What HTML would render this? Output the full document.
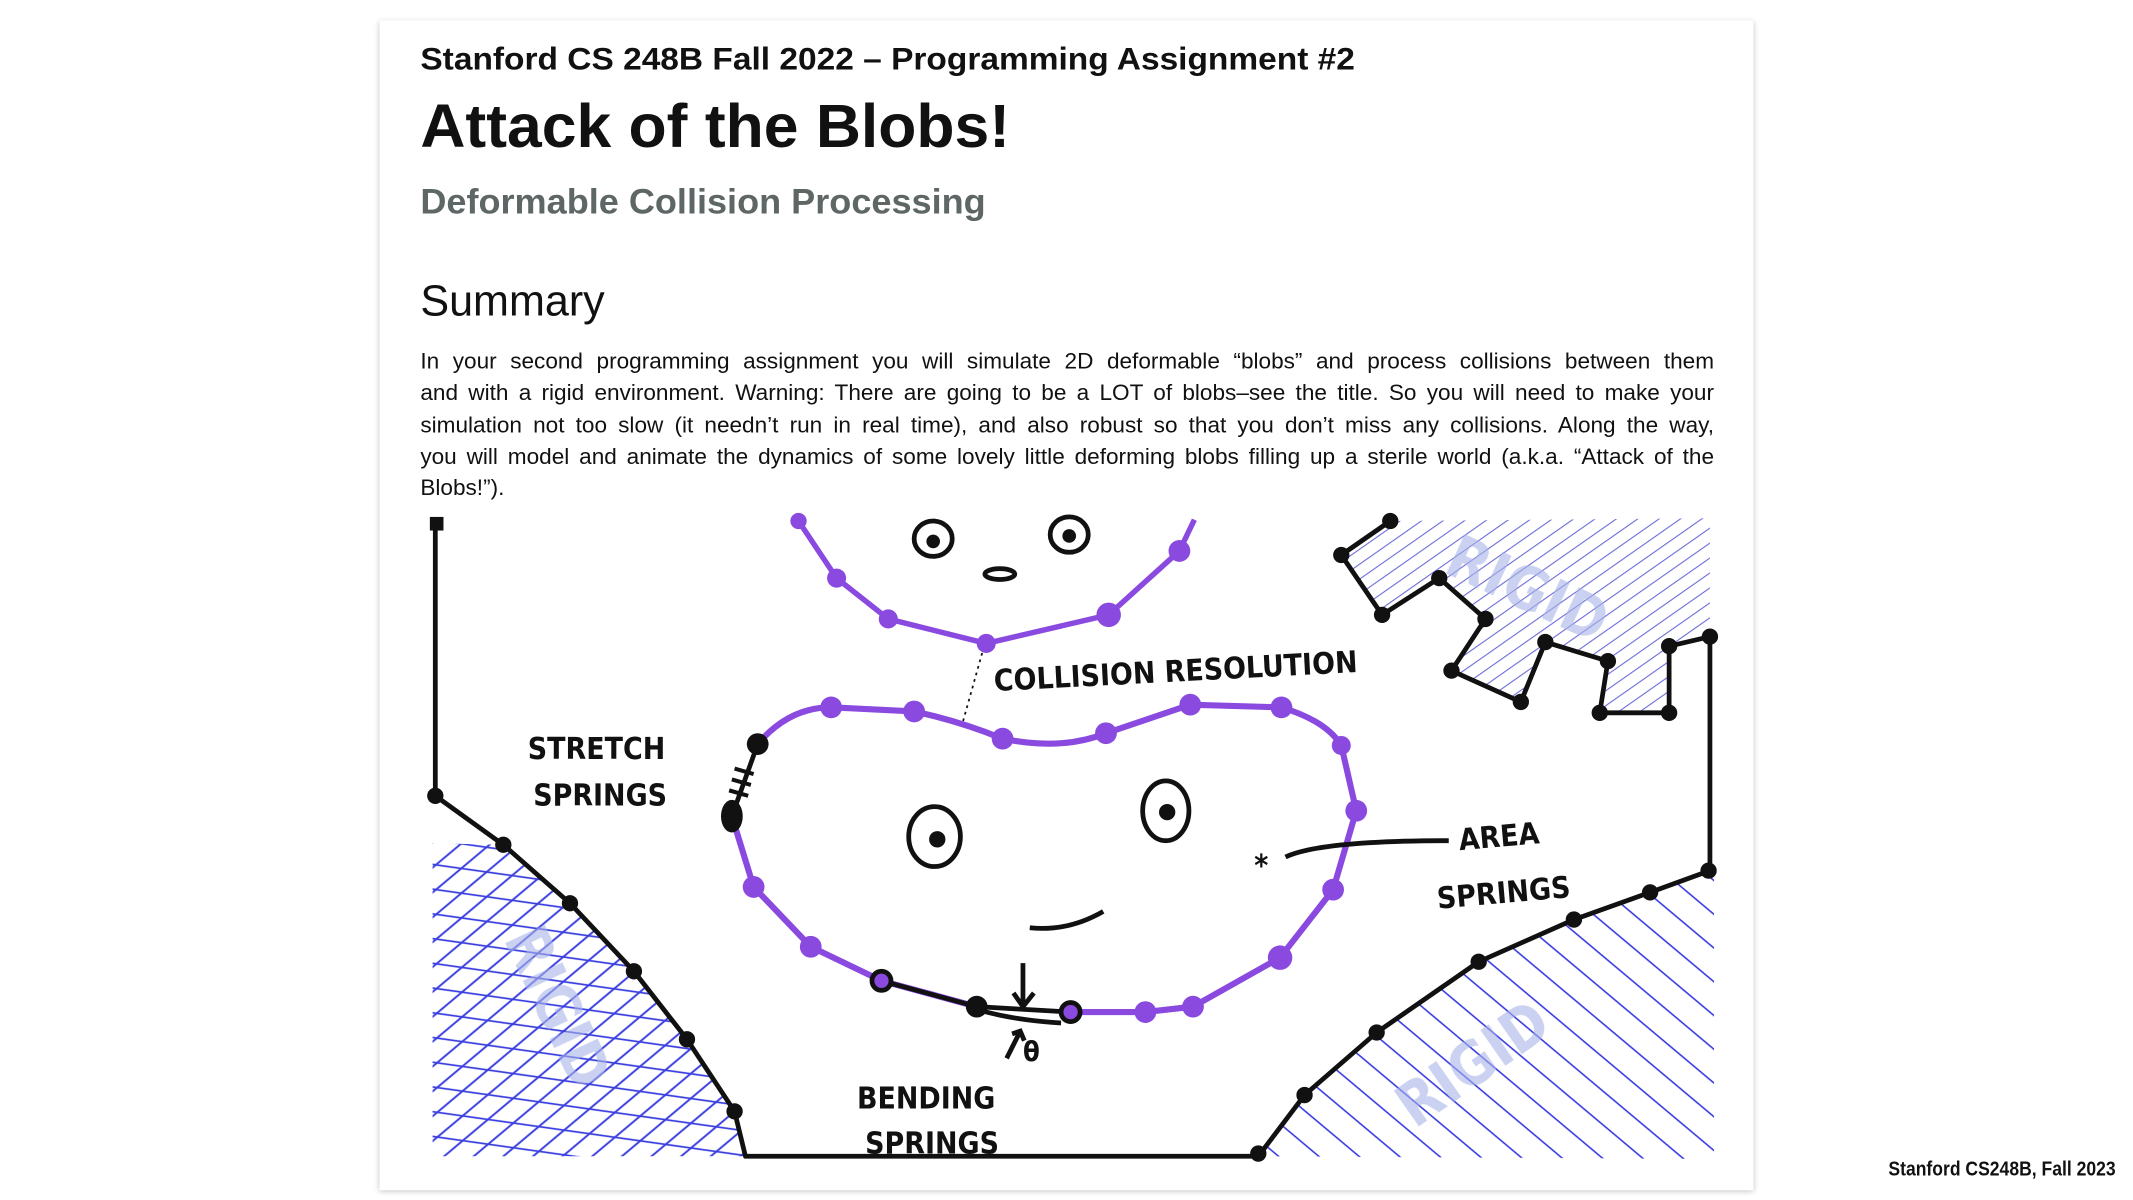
<!DOCTYPE html>
<html><head><meta charset="utf-8"><style>
html,body{margin:0;padding:0;background:#fff;width:2133px;height:1200px;overflow:hidden}
#stage{position:absolute;left:0;top:0;width:1568px;height:882px;transform:scale(1.36033);transform-origin:0 0;font-family:"Liberation Sans",Arial,sans-serif}
#card{position:absolute;left:279px;top:15px;width:1010px;height:860px;background:#fff;box-shadow:0 1px 4px rgba(0,0,0,.25)}
.t{position:absolute;left:309px;white-space:nowrap;transform-origin:0 0;color:#111}
.p{position:absolute;left:309px;width:951px;font-size:16.6px;color:#111}
.p div{height:23.3px;line-height:23.3px;text-align:justify;text-align-last:justify;white-space:nowrap;overflow:visible}
#foot{position:absolute;right:13px;top:851px;font-weight:bold;font-size:15px;transform:scaleX(.86);transform-origin:100% 0;color:#111;white-space:nowrap}
svg text{font-family:"DejaVu Sans Condensed","DejaVu Sans",sans-serif;font-weight:bold}
</style></head><body>
<div id="stage">
<div id="card"></div>
<div class="t" style="top:30px;font-size:23px;font-weight:bold;transform:scaleX(1.07)">Stanford CS 248B Fall 2022 – Programming Assignment #2</div>
<div class="t" style="top:67px;font-size:45px;font-weight:bold;transform:scaleX(1.02)">Attack of the Blobs!</div>
<div class="t" style="top:133px;font-size:26px;font-weight:bold;color:#5f6666;transform:scaleX(1.02)">Deformable Collision Processing</div>
<div class="t" style="top:203px;font-size:32px;transform:scaleX(.99)">Summary</div>
<div class="p" style="top:254px">
<div>In your second programming assignment you will simulate 2D deformable “blobs” and process collisions between them</div>
<div>and with a rigid environment. Warning: There are going to be a LOT of blobs–see the title. So you will need to make your</div>
<div>simulation not too slow (it needn’t run in real time), and also robust so that you don’t miss any collisions. Along the way,</div>
<div>you will model and animate the dynamics of some lovely little deforming blobs filling up a sterile world (a.k.a. “Attack of the</div>
<div style="text-align-last:left">Blobs!”).</div>
</div>
<svg style="position:absolute;left:0;top:0" width="1568" height="882">
<defs>
<pattern id="h1" width="14" height="14" patternUnits="userSpaceOnUse" patternTransform="rotate(-40)"><line x1="0" y1="7" x2="14" y2="7" stroke="#3b3fe0" stroke-width="1.4"/></pattern>
<pattern id="h2" width="18" height="18" patternUnits="userSpaceOnUse" patternTransform="rotate(8)"><line x1="0" y1="9" x2="18" y2="9" stroke="#3b3fe0" stroke-width="1.2"/></pattern>
<pattern id="h3" width="19" height="19" patternUnits="userSpaceOnUse" patternTransform="rotate(40)"><line x1="0" y1="9" x2="19" y2="9" stroke="#3b3fe0" stroke-width="1.2"/></pattern>
<pattern id="h4" width="9" height="9" patternUnits="userSpaceOnUse" patternTransform="rotate(-35)"><line x1="0" y1="4" x2="9" y2="4" stroke="#6a6ad8" stroke-width="0.8"/></pattern>
</defs>
<path d="M318,620 L370,621 L419,664 L466,714 L505,764 L540,817 L548,850 L318,850Z" fill="url(#h1)"/>
<path d="M318,620 L370,621 L419,664 L466,714 L505,764 L540,817 L548,850 L318,850Z" fill="url(#h2)"/>
<path d="M925,850 L959,805 L1012,759 L1087,707 L1157,676 L1213,656 L1260,640 L1260,852Z" fill="url(#h3)"/>
<path d="M1022,383 L986,408 L1016,452 L1058,425 L1092,455 L1067,493 L1118,516 L1136,472 L1182,486 L1176,524 L1227,524 L1227,475 L1257,468 L1257,381Z" fill="url(#h4)"/>
<g fill="#a8b4e8" opacity=".6" font-size="44">
<text transform="translate(1060,420) rotate(25)">RIGID</text>
<text transform="translate(1040,830) rotate(-35)">RIGID</text>
<text transform="translate(370,690) rotate(65)">RIGID</text>
</g>
<path d="M320,382 L320,585 L370,621 L419,664 L466,714 L505,764 L540,817 L548,850 L925,850 L959,805 L1012,759 L1087,707 L1157,676 L1213,656 L1257,640 L1257,468" fill="none" stroke="#111" stroke-width="3.5" stroke-linejoin="round"/>
<path d="M1022,383 L986,408 L1016,452 L1058,425 L1092,455 L1067,493 L1118,516 L1136,472 L1182,486 L1176,524 L1227,524 L1227,475 L1257,468" fill="none" stroke="#111" stroke-width="3.5" stroke-linejoin="round"/>
<g fill="#111">
<circle cx="320" cy="585" r="6"/><circle cx="370" cy="621" r="6"/><circle cx="419" cy="664" r="6"/><circle cx="466" cy="714" r="6"/><circle cx="505" cy="764" r="6"/><circle cx="540" cy="817" r="6"/>
<circle cx="925" cy="848" r="6"/><circle cx="959" cy="805" r="6"/><circle cx="1012" cy="759" r="6"/><circle cx="1087" cy="707" r="6"/><circle cx="1157" cy="676" r="6"/><circle cx="1213" cy="656" r="6"/><circle cx="1256" cy="640" r="6"/>
<circle cx="1022" cy="383" r="6"/><circle cx="986" cy="408" r="6"/><circle cx="1016" cy="452" r="6"/><circle cx="1058" cy="425" r="6"/><circle cx="1092" cy="455" r="6"/><circle cx="1067" cy="493" r="6"/><circle cx="1118" cy="516" r="6"/><circle cx="1136" cy="472" r="6"/><circle cx="1182" cy="486" r="6"/><circle cx="1176" cy="524" r="6"/><circle cx="1227" cy="524" r="6"/><circle cx="1227" cy="475" r="6"/><circle cx="1257" cy="468" r="6"/>
<rect x="316" y="380" width="10" height="10"/>
</g>
<path d="M587,383 L615,425 L653,455 L725,473 L815,452 L867,405 L878,382" fill="none" stroke="#8a4ae0" stroke-width="4"/>
<g fill="#8a4ae0"><circle cx="587" cy="383" r="6"/><circle cx="615" cy="425" r="7"/><circle cx="653" cy="455" r="7"/><circle cx="725" cy="473" r="7"/><circle cx="815" cy="452" r="9"/><circle cx="867" cy="405" r="8"/></g>
<g fill="none" stroke="#111" stroke-width="3.5"><ellipse cx="686" cy="396" rx="14" ry="13"/><ellipse cx="786" cy="393" rx="14" ry="13"/><ellipse cx="735" cy="422" rx="11" ry="4"/></g>
<g fill="#111"><circle cx="686" cy="398" r="5"/><circle cx="786" cy="394" r="5"/></g>
<path d="M722,480 L708,530" stroke="#111" stroke-width="1.3" stroke-dasharray="2,3"/>
<path d="M557,547 Q580,520 611,520 L672,523 Q705,530 737,543 Q780,552 813,539 L875,518 L942,520 Q975,530 986,548 L997,596 L980,654 L941,704 L877,740 L842,744 L787,744 M718,740 L648,721 L596,696 L554,652 L538,600" fill="none" stroke="#8a4ae0" stroke-width="4.5"/>
<path d="M648,721 L718,740 L787,744 M557,547 L538,600" fill="none" stroke="#111" stroke-width="3.5"/>
<g fill="#8a4ae0"><circle cx="611" cy="520" r="8"/><circle cx="672" cy="523" r="8"/><circle cx="737" cy="543" r="8"/><circle cx="813" cy="539" r="8"/><circle cx="875" cy="518" r="8"/><circle cx="942" cy="520" r="8"/><circle cx="986" cy="548" r="7"/><circle cx="997" cy="596" r="8"/><circle cx="980" cy="654" r="8"/><circle cx="941" cy="704" r="9"/><circle cx="877" cy="740" r="8"/><circle cx="842" cy="744" r="8"/><circle cx="596" cy="696" r="8"/><circle cx="554" cy="652" r="8"/></g>
<g fill="#111"><circle cx="557" cy="547" r="8"/><ellipse cx="538" cy="600" rx="8" ry="12"/><circle cx="718" cy="740" r="8"/></g>
<g fill="#8a4ae0" stroke="#111" stroke-width="3.5"><circle cx="787" cy="744" r="7"/><circle cx="648" cy="721" r="7"/></g>
<path d="M540,565 l14,4 M538,573 l14,4 M536,581 l14,4" stroke="#111" stroke-width="3"/>
<g fill="none" stroke="#111" stroke-width="3.5"><ellipse cx="687" cy="615" rx="19" ry="22"/><ellipse cx="857" cy="596" rx="17" ry="22"/><path d="M757,682 Q785,685 811,670"/><path d="M945,630 Q970,618 1065,618"/><path d="M752,708 L752,740 M745,730 L752,740 L760,730 M740,778 L750,758 M744,760 L750,758 L753,765"/><path d="M718,742 Q745,750 780,752"/></g>
<g fill="#111"><circle cx="689" cy="617" r="6"/><circle cx="858" cy="597" r="6"/></g>
<g fill="#111" font-size="22">
<text x="731" y="508" transform="rotate(-3 731 508)">COLLISION RESOLUTION</text>
<text x="388" y="558">STRETCH</text><text x="392" y="592">SPRINGS</text>
<text x="1073" y="625" transform="rotate(-5 1073 625)">AREA</text><text x="1057" y="668" transform="rotate(-5 1057 668)">SPRINGS</text>
<text x="630" y="815">BENDING</text><text x="636" y="848">SPRINGS</text>
<text x="752" y="780" font-size="20">θ</text>
<text x="922" y="644" font-size="22">*</text>
</g>
</svg>
<div id="foot">Stanford CS248B, Fall 2023</div>
</div>
</body></html>
